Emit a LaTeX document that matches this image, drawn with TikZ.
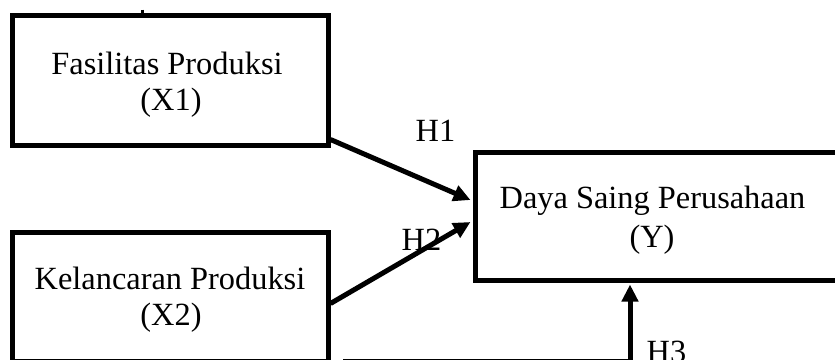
\documentclass[tikz,border=0pt]{standalone}
\usepackage{fontspec}
\setmainfont{Liberation Serif}
\usetikzlibrary{arrows.meta}

\tikzset{
  varbox/.style={draw=black, line width=5bp, rectangle, inner sep=0pt,
                 minimum width=#1},
  boxtext/.style={anchor=base, inner sep=0pt,
                  font=\fontsize{32.5}{38}\selectfont},
  hyp/.style={line width=5bp, draw=black,
              -{Triangle[length=17bp,width=16bp]}},
  feed/.style={line width=5bp, draw=black},
}

\begin{document}
\begin{tikzpicture}[x=1bp, y=-1bp]
  \useasboundingbox (0,0) rectangle (835,359);
  \clip (0,0) rectangle (835,359);
  \fill[white] (0,0) rectangle (835,359);

  % independent variables
  \node[varbox=315bp, minimum height=130bp] (x1) at (170.5,80.5) {};
  \node[varbox=315bp, minimum height=129bp] (x2) at (170.5,296.5) {};
  % dependent variable
  \node[varbox=370bp, minimum height=128bp] (y) at (660,216) {};

  % box captions
  \node[boxtext] (x1a) at (167,74) {Fasilitas Produksi};
  \node[boxtext] (x1b) at (171,110) {(X1)};
  \node[boxtext] (x2a) at (170,289) {Kelancaran Produksi};
  \node[boxtext] (x2b) at (171,325) {(X2)};
  \node[boxtext] (ya) at (652.5,208) {Daya Saing Perusahaan};
  \node[boxtext] (yb) at (652,247) {(Y)};

  % connection points on the boxes
  \coordinate (x1out) at ([shift={(0,-8.5)}]x1.south east);
  \coordinate (x2out) at ([shift={(0,7)}]x2.east);
  \coordinate (yin1) at ([shift={(-2,-16)}]y.west);
  \coordinate (yin2) at ([shift={(-2,6)}]y.west);
  \coordinate (yin3) at (y.south -| 630,0);
  \coordinate (h3corner) at (630,361);
  \coordinate (h3start) at (343,361);

  % hypothesis paths
  \draw[hyp] (x1out) -- (yin1);
  \draw[hyp] (x2out) -- (yin2);
  \draw[feed] (h3start) -- (h3corner);
  \draw[hyp] (h3corner) -- ([shift={(0,2)}]yin3);

  % hypothesis labels
  \node[boxtext] (h1) at (435.5,141) {H1};
  \node[boxtext] (h2) at (421.5,250) {H2};
  \node[boxtext] (h3) at (666.5,362) {H3};

  % stray mark above the first box
  \draw[line width=2.5bp] (142.5,9.5) -- (142.5,14);
\end{tikzpicture}
\end{document}
